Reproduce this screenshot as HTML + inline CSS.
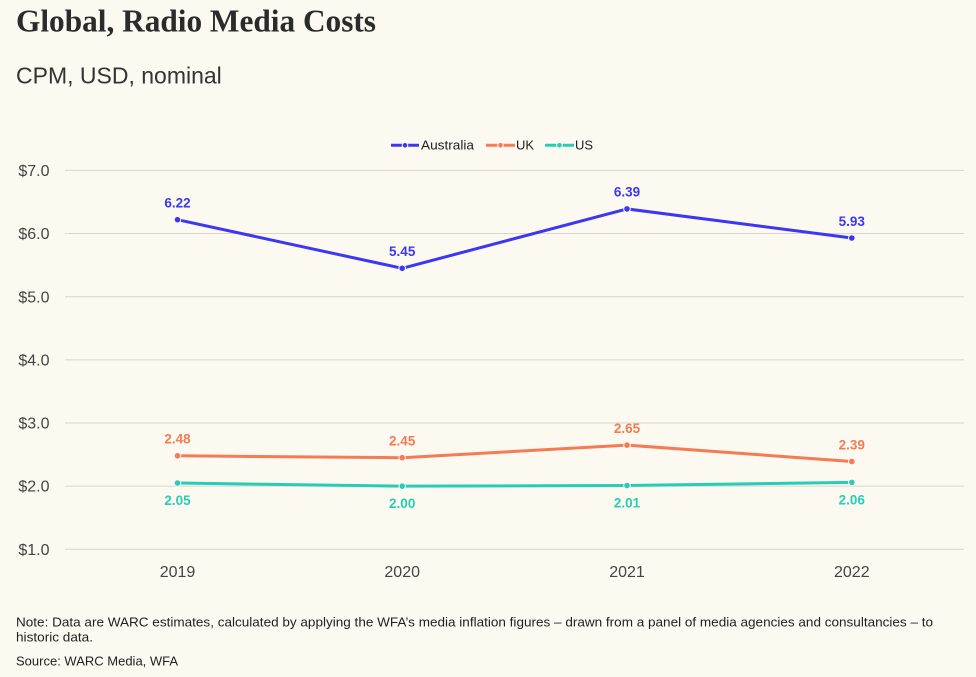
<!DOCTYPE html>
<html>
<head>
<meta charset="utf-8">
<style>
  html,body{margin:0;padding:0;background:#fcf9f1;}
  body{width:976px;height:677px;overflow:hidden;position:relative;}
  svg{position:absolute;left:0;top:0;}
  .t{font-family:"Liberation Serif",serif;font-weight:bold;}
  .s{font-family:"Liberation Sans",sans-serif;}
</style>
</head>
<body>
<svg width="976" height="677" viewBox="0 0 976 677" xmlns="http://www.w3.org/2000/svg">
  <rect width="976" height="677" fill="#fcf9f1"/>
  <text x="16" y="31.5" class="t" font-size="31.3" fill="#2b2b2b" textLength="360" lengthAdjust="spacingAndGlyphs">Global, Radio Media Costs</text>
  <text x="16" y="83.3" class="s" font-size="23" fill="#333">CPM, USD, nominal</text>

  <!-- legend -->
  <g class="s" font-size="13" fill="#222">
    <line x1="391" y1="145.3" x2="419" y2="145.3" stroke="#3b37f2" stroke-width="3"/>
    <circle cx="405" cy="145.3" r="2.8" fill="#3b37f2" stroke="#fcf9f1" stroke-width="1"/>
    <text x="421" y="149.3" textLength="53" lengthAdjust="spacingAndGlyphs">Australia</text>
    <line x1="486" y1="145.3" x2="515" y2="145.3" stroke="#f47b53" stroke-width="3"/>
    <circle cx="500.5" cy="145.3" r="2.8" fill="#f47b53" stroke="#fcf9f1" stroke-width="1"/>
    <text x="516" y="149.3">UK</text>
    <line x1="545" y1="145.3" x2="574" y2="145.3" stroke="#27cdb4" stroke-width="3"/>
    <circle cx="559.5" cy="145.3" r="2.8" fill="#27cdb4" stroke="#fcf9f1" stroke-width="1"/>
    <text x="575" y="149.3">US</text>
  </g>

  <!-- grid -->
  <g stroke="#d8d5cf" stroke-width="1">
    <line x1="65" y1="170.4" x2="964" y2="170.4"/>
    <line x1="65" y1="233.55" x2="964" y2="233.55"/>
    <line x1="65" y1="296.7" x2="964" y2="296.7"/>
    <line x1="65" y1="359.85" x2="964" y2="359.85"/>
    <line x1="65" y1="423" x2="964" y2="423"/>
    <line x1="65" y1="486.15" x2="964" y2="486.15"/>
    <line x1="65" y1="549.3" x2="964" y2="549.3"/>
  </g>
  <g class="s" font-size="16" fill="#444" text-anchor="end">
    <text x="49.5" y="176">$7.0</text>
    <text x="49.5" y="239.1">$6.0</text>
    <text x="49.5" y="302.3">$5.0</text>
    <text x="49.5" y="365.4">$4.0</text>
    <text x="49.5" y="428.6">$3.0</text>
    <text x="49.5" y="491.7">$2.0</text>
    <text x="49.5" y="554.9">$1.0</text>
  </g>
  <g class="s" font-size="16" fill="#444" text-anchor="middle">
    <text x="177.5" y="577">2019</text>
    <text x="402.2" y="577">2020</text>
    <text x="627" y="577">2021</text>
    <text x="851.8" y="577">2022</text>
  </g>

  <!-- series -->
  <g fill="none" stroke-width="3" stroke-linejoin="round">
    <polyline points="177.5,219.7 402.2,268.3 627,208.9 851.8,238.0" stroke="#3b37f2"/>
    <polyline points="177.5,455.8 402.2,457.7 627,445.1 851.8,461.5" stroke="#f47b53"/>
    <polyline points="177.5,483.0 402.2,486.15 627,485.5 851.8,482.4" stroke="#27cdb4"/>
  </g>
  <g stroke="#fcf9f1" stroke-width="1">
    <g fill="#3b37f2">
      <circle cx="177.5" cy="219.7" r="3.3"/><circle cx="402.2" cy="268.3" r="3.3"/>
      <circle cx="627" cy="208.9" r="3.3"/><circle cx="851.8" cy="238.0" r="3.3"/>
    </g>
    <g fill="#f47b53">
      <circle cx="177.5" cy="455.8" r="3.3"/><circle cx="402.2" cy="457.7" r="3.3"/>
      <circle cx="627" cy="445.1" r="3.3"/><circle cx="851.8" cy="461.5" r="3.3"/>
    </g>
    <g fill="#27cdb4">
      <circle cx="177.5" cy="483.0" r="3.3"/><circle cx="402.2" cy="486.15" r="3.3"/>
      <circle cx="627" cy="485.5" r="3.3"/><circle cx="851.8" cy="482.4" r="3.3"/>
    </g>
  </g>

  <!-- labels -->
  <g class="s" font-size="13.5" font-weight="bold" text-anchor="middle">
    <g fill="#3b37f2">
      <text x="177.5" y="207.5">6.22</text>
      <text x="402.2" y="256.1">5.45</text>
      <text x="627" y="196.7">6.39</text>
      <text x="851.8" y="225.8">5.93</text>
    </g>
    <g fill="#f47b53">
      <text x="177.5" y="443.6">2.48</text>
      <text x="402.2" y="445.5">2.45</text>
      <text x="627" y="432.9">2.65</text>
      <text x="851.8" y="449.3">2.39</text>
    </g>
    <g fill="#27cdb4">
      <text x="177.5" y="505">2.05</text>
      <text x="402.2" y="508.2">2.00</text>
      <text x="627" y="507.5">2.01</text>
      <text x="851.8" y="504.4">2.06</text>
    </g>
  </g>

  <!-- notes -->
  <g class="s" font-size="13" fill="#222">
    <text x="16" y="626.7" textLength="917" lengthAdjust="spacingAndGlyphs">Note: Data are WARC estimates, calculated by applying the WFA’s media inflation figures – drawn from a panel of media agencies and consultancies – to</text>
    <text x="16" y="641.7" textLength="77" lengthAdjust="spacingAndGlyphs">historic data.</text>
    <text x="16" y="665.7">Source: WARC Media, WFA</text>
  </g>
</svg>
</body>
</html>
